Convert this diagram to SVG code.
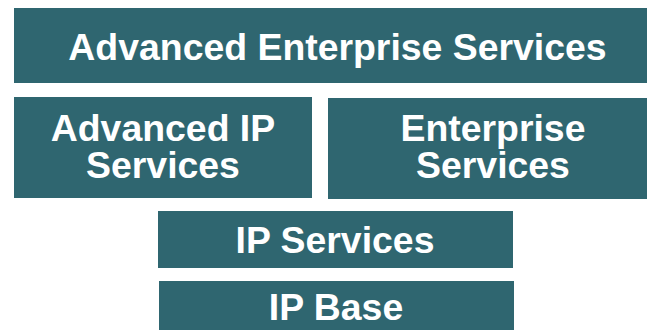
<svg xmlns="http://www.w3.org/2000/svg" width="647" height="330" viewBox="0 0 647 330">
<style>
.box{fill:#2F6670}
.t{fill:#FFFFFF;font-family:"Liberation Sans",Arial,sans-serif;font-weight:bold;font-size:37.4px;text-anchor:middle}
</style>
<rect width="647" height="330" fill="#FFFFFF"/>
<g id="advanced-enterprise-services">
<rect class="box" x="14" y="8" width="633" height="75"/>
<text class="t" x="337.5" y="60">Advanced Enterprise Services</text>
</g>
<g id="advanced-ip-services">
<rect class="box" x="14" y="97" width="298" height="101"/>
<text class="t" x="163" y="141">Advanced IP</text>
<text class="t" x="163" y="178">Services</text>
</g>
<g id="enterprise-services">
<rect class="box" x="328" y="98" width="319" height="101"/>
<text class="t" x="493" y="141">Enterprise</text>
<text class="t" x="493" y="178">Services</text>
</g>
<g id="ip-services">
<rect class="box" x="158" y="211" width="355" height="57"/>
<text class="t" x="335" y="253">IP Services</text>
</g>
<g id="ip-base">
<rect class="box" x="159" y="281" width="355" height="49"/>
<text class="t" x="336" y="320">IP Base</text>
</g>
<g id="connectors"/>
</svg>
